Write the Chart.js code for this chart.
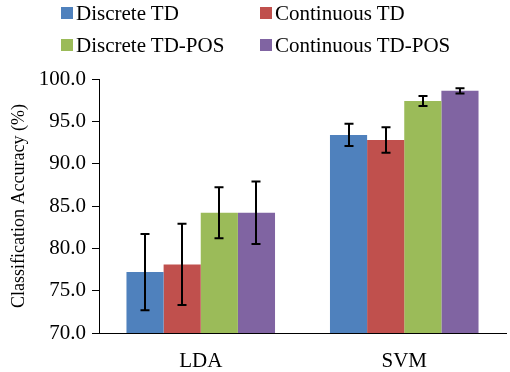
<!DOCTYPE html>
<html>
<head>
<meta charset="utf-8">
<script src="https://cdn.jsdelivr.net/npm/chart.js@4/dist/chart.umd.min.js"></script>
<style>
  html, body { margin: 0; padding: 0; background: #fff; }
  #wrap { position: relative; width: 510px; height: 372px; }
  #legend { position: absolute; left: 61px; top: 0; font-family: "Liberation Serif", "Times New Roman", serif; font-size: 21px; color: #000; }
  .item { position: absolute; white-space: nowrap; line-height: 22px; }
  .sw { display: inline-block; width: 12px; height: 12px; margin-right: 3px; vertical-align: 1px; }
</style>
</head>
<body>
<div id="wrap">
  <canvas id="c" width="510" height="372"></canvas>
  <div id="legend"></div>
</div>
<script>
const categories = ["LDA", "SVM"];
const seriesNames = ["Discrete TD", "Continuous TD", "Discrete TD-POS", "Continuous TD-POS"];
const discreteTD = [77.2, 93.4];
const continuousTD = [78.1, 92.8];
const discreteTDPOS = [84.2, 97.4];
const continuousTDPOS = [84.2, 98.6];
const errDiscreteTD = [4.5, 1.3];
const errContinuousTD = [4.8, 1.5];
const errDiscreteTDPOS = [3.0, 0.6];
const errContinuousTDPOS = [3.7, 0.3];
const yTicks = [70, 75, 80, 85, 90, 95, 100];
const colors = ["#4F81BD", "#C0504D", "#9BBB59", "#8064A2"];

const values = [discreteTD, continuousTD, discreteTDPOS, continuousTDPOS];
const errors = [errDiscreteTD, errContinuousTD, errDiscreteTDPOS, errContinuousTDPOS];

const FONT = "'Liberation Serif', 'Times New Roman', serif";

// HTML legend
const legend = document.getElementById('legend');
const pos = [[0, 2], [199, 2], [0, 34], [199, 34]];
seriesNames.forEach((n, i) => {
  const d = document.createElement('div');
  d.className = 'item';
  d.style.left = pos[i][0] + 'px';
  d.style.top = pos[i][1] + 'px';
  d.innerHTML = '<span class="sw" style="background:' + colors[i] + '"></span>' + n;
  legend.appendChild(d);
});

const errorBars = {
  id: 'errorBars',
  afterDatasetsDraw(chart) {
    const ctx = chart.ctx;
    const y = chart.scales.y;
    ctx.save();
    ctx.strokeStyle = '#000';
    ctx.lineWidth = 2;
    chart.data.datasets.forEach((ds, di) => {
      const meta = chart.getDatasetMeta(di);
      meta.data.forEach((el, i) => {
        const v = ds.data[i], e = errors[di][i];
        const yt = y.getPixelForValue(v + e), yb = y.getPixelForValue(v - e);
        const x = Math.round(el.x);
        ctx.beginPath();
        ctx.moveTo(x, yt); ctx.lineTo(x, yb);
        ctx.moveTo(x - 4.5, yt); ctx.lineTo(x + 4.5, yt);
        ctx.moveTo(x - 4.5, yb); ctx.lineTo(x + 4.5, yb);
        ctx.stroke();
      });
    });
    ctx.restore();
  }
};

new Chart(document.getElementById('c'), {
  type: 'bar',
  data: {
    labels: categories,
    datasets: seriesNames.map((n, i) => ({
      label: n,
      data: values[i],
      backgroundColor: colors[i],
      borderWidth: 0,
      barPercentage: 1.0,
      categoryPercentage: 0.73
    }))
  },
  options: {
    responsive: false,
    animation: false,
    layout: { padding: { top: 79, right: 4, left: 0, bottom: 0 } },
    plugins: { legend: { display: false }, tooltip: { enabled: false } },
    scales: {
      x: {
        grid: { display: false },
        border: { display: true, color: '#000', width: 1 },
        ticks: { color: '#000', font: { family: FONT, size: 21 }, padding: 8 },
        afterFit(s) { s.height = 39; }
      },
      y: {
        min: 70, max: 100,
        afterBuildTicks(s) { s.ticks = yTicks.map(v => ({ value: v })); },
        grid: { display: true, drawOnChartArea: false, drawTicks: true, tickLength: 7, color: '#000' },
        border: { display: true, color: '#000', width: 1 },
        ticks: { color: '#000', font: { family: FONT, size: 21 }, padding: 6,
          callback: v => Number(v).toFixed(1) },
        title: { display: true, text: 'Classification Accuracy (%)', color: '#000',
          font: { family: FONT, size: 18 }, padding: { top: 8, bottom: 0 } },
        afterFit(s) { s.width = 99; }
      }
    }
  },
  plugins: [errorBars]
});
</script>
</body>
</html>
